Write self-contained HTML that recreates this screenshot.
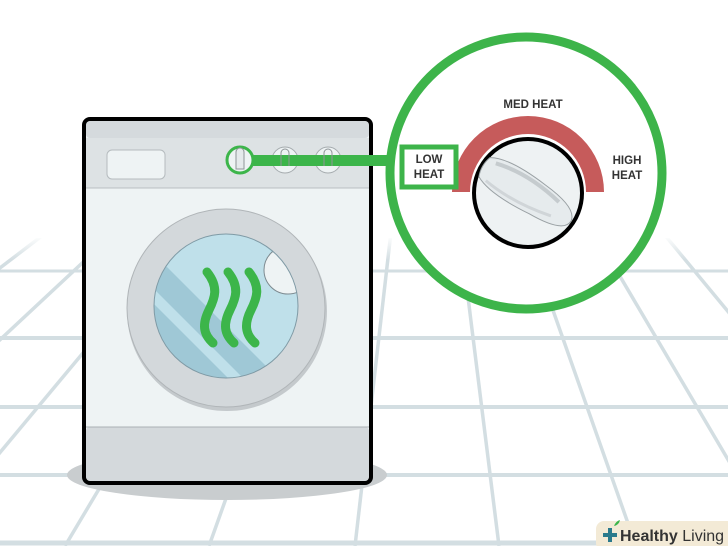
<!DOCTYPE html>
<html><head><style>
html,body{margin:0;padding:0;background:#fff;}
svg{display:block;}
text{font-family:"Liberation Sans",sans-serif;font-weight:bold;fill:#333;}
</style></head><body>
<svg width="728" height="546" viewBox="0 0 728 546" xmlns="http://www.w3.org/2000/svg">
<defs>
<linearGradient id="fade" x1="0" y1="0" x2="0" y2="1">
<stop offset="0" stop-color="#fff" stop-opacity="1"/>
<stop offset="0.4" stop-color="#fff" stop-opacity="0"/>
</linearGradient>
<clipPath id="glass"><circle cx="226" cy="306" r="72"/></clipPath>
</defs>
<rect width="728" height="546" fill="#fff"/>
<g stroke="#d3dee2" stroke-width="4">
<line x1="0" y1="271" x2="728" y2="271" stroke-width="3"/>
<line x1="0" y1="338" x2="728" y2="338"/>
<line x1="0" y1="407" x2="728" y2="407"/>
<line x1="0" y1="475" x2="728" y2="475"/>
<line x1="0" y1="543" x2="728" y2="543" stroke-width="5"/>
<g stroke-width="3.5">
<line x1="-364" y1="546" x2="424" y2="-56"/>
<line x1="-221" y1="546" x2="424" y2="-56"/>
<line x1="-78" y1="546" x2="424" y2="-56"/>
<line x1="65" y1="546" x2="424" y2="-56"/>
<line x1="209" y1="546" x2="424" y2="-56"/>
<line x1="355" y1="546" x2="424" y2="-56"/>
<line x1="499" y1="546" x2="424" y2="-56"/>
<line x1="636" y1="546" x2="424" y2="-56"/>
<line x1="779" y1="546" x2="424" y2="-56"/>
<line x1="922" y1="546" x2="424" y2="-56"/>
<line x1="1065" y1="546" x2="424" y2="-56"/>
<line x1="1208" y1="546" x2="424" y2="-56"/>
</g>
</g>
<rect x="0" y="0" width="728" height="238" fill="#fff"/>
<rect x="0" y="236" width="728" height="60" fill="url(#fade)"/>
<!-- shadow -->
<ellipse cx="227" cy="475" rx="160" ry="25" fill="#c9cdcf"/>
<!-- washer -->
<rect x="82" y="117" width="291" height="368" rx="8" fill="#000"/>
<rect x="86" y="121" width="283" height="360" rx="5" fill="#eef3f4"/>
<rect x="86" y="121" width="283" height="17" rx="4" fill="#d5dadd"/>
<rect x="86" y="138" width="283" height="50" fill="#dde2e4"/>
<line x1="86" y1="188" x2="369" y2="188" stroke="#b9bfc2" stroke-width="1"/>
<rect x="86" y="427" width="283" height="54" rx="4" fill="#d4d9dc"/>
<line x1="86" y1="427" x2="369" y2="427" stroke="#aab0b3" stroke-width="1"/>
<rect x="107" y="150" width="58" height="29" rx="5" fill="#eef3f4" stroke="#b5bbbe"/>
<!-- knobs -->
<g fill="#eef3f4" stroke="#a5abae" stroke-width="1">
<circle cx="285" cy="160" r="13"/><circle cx="328" cy="160" r="13"/>
</g>
<rect x="250" y="155" width="150" height="11" fill="#3cb54a"/>
<g fill="none" stroke="#8f9598" stroke-width="1">
<path d="M281,166 V153 a4,4 0 0 1 8,0 V166"/>
<path d="M324,166 V153 a4,4 0 0 1 8,0 V166"/>
</g>
<circle cx="240" cy="160" r="13" fill="#eef3f4" stroke="#3cb54a" stroke-width="3"/>
<path d="M236,169 V152 a4,4 0 0 1 8,0 V169 z" fill="#e5eaec" stroke="#8f9598"/>
<!-- door -->
<circle cx="227" cy="311" r="100" fill="#c4c9cc"/>
<circle cx="226" cy="308" r="99" fill="#d3d8db" stroke="#b0b5b8" stroke-width="1"/>
<g clip-path="url(#glass)">
<rect x="150" y="230" width="160" height="160" fill="#bfe0ea"/>
<polygon points="240,220 330,220 330,310" fill="#9fc8d6"/>
<polygon points="150,250 150,285 255,390 290,390" fill="#9fc8d6"/>
<polygon points="150,300 150,390 240,390" fill="#9fc8d6"/>
<circle cx="288" cy="270" r="24" fill="#eef3f4" stroke="#7d8a90" stroke-width="1"/>
</g>
<circle cx="226" cy="306" r="72" fill="none" stroke="#7f9aa5" stroke-width="1"/>
<g fill="none" stroke="#3cb54a" stroke-width="9" stroke-linecap="round">
<path d="M207,272 C219,287 215,298 209,310 C202,324 203,334 213,343"/>
<path d="M228,272 C240,287 236,298 230,310 C223,324 224,334 234,343"/>
<path d="M249,272 C261,287 257,298 251,310 C244,324 245,334 255,343"/>
</g>
<!-- zoom circle -->
<circle cx="526" cy="173" r="136" fill="#fff" stroke="#3db44a" stroke-width="9"/>
<path d="M452,192 A76,76 0 0 1 604,192 L586,192 A58,58 0 0 0 470,192 Z" fill="#c65b5b"/>
<circle cx="528" cy="193" r="54" fill="#eef2f3" stroke="#000" stroke-width="4"/>
<g transform="rotate(30 522 190)">
<path d="M478,178 Q495,168 540,174 Q578,178 580,192 Q580,207 540,207 Q495,210 478,200 Q474,189 478,178 Z" fill="#e6ebed" stroke="#9aa1a4" stroke-width="1"/>
<path d="M486,180 Q520,172 560,182" fill="none" stroke="#c5cbce" stroke-width="4"/>
<path d="M486,200 Q520,206 560,198" fill="none" stroke="#d0d5d8" stroke-width="3"/>
</g>
<rect x="402" y="147" width="54" height="40" fill="#fff" stroke="#3db44a" stroke-width="5"/>
<text x="429" y="163" font-size="11.5" text-anchor="middle">LOW</text>
<text x="429" y="178" font-size="11.5" text-anchor="middle">HEAT</text>
<text x="533" y="108" font-size="11.5" text-anchor="middle">MED HEAT</text>
<text x="627" y="164" font-size="11.5" text-anchor="middle">HIGH</text>
<text x="627" y="179" font-size="11.5" text-anchor="middle">HEAT</text>
<!-- watermark -->
<rect x="596" y="521" width="140" height="30" rx="8" fill="#f3ead6"/>
<path d="M603,535 h14 M610,528 v14" stroke="#2a7a8c" stroke-width="4"/>
<path d="M614,526 q2,-5 6,-6 q-1,5 -6,6z" fill="#3cb54a"/>
<text x="620" y="541" font-size="16" font-weight="bold" style="fill:#333">Healthy<tspan font-weight="normal"> Living</tspan></text>
</svg>
</body></html>
